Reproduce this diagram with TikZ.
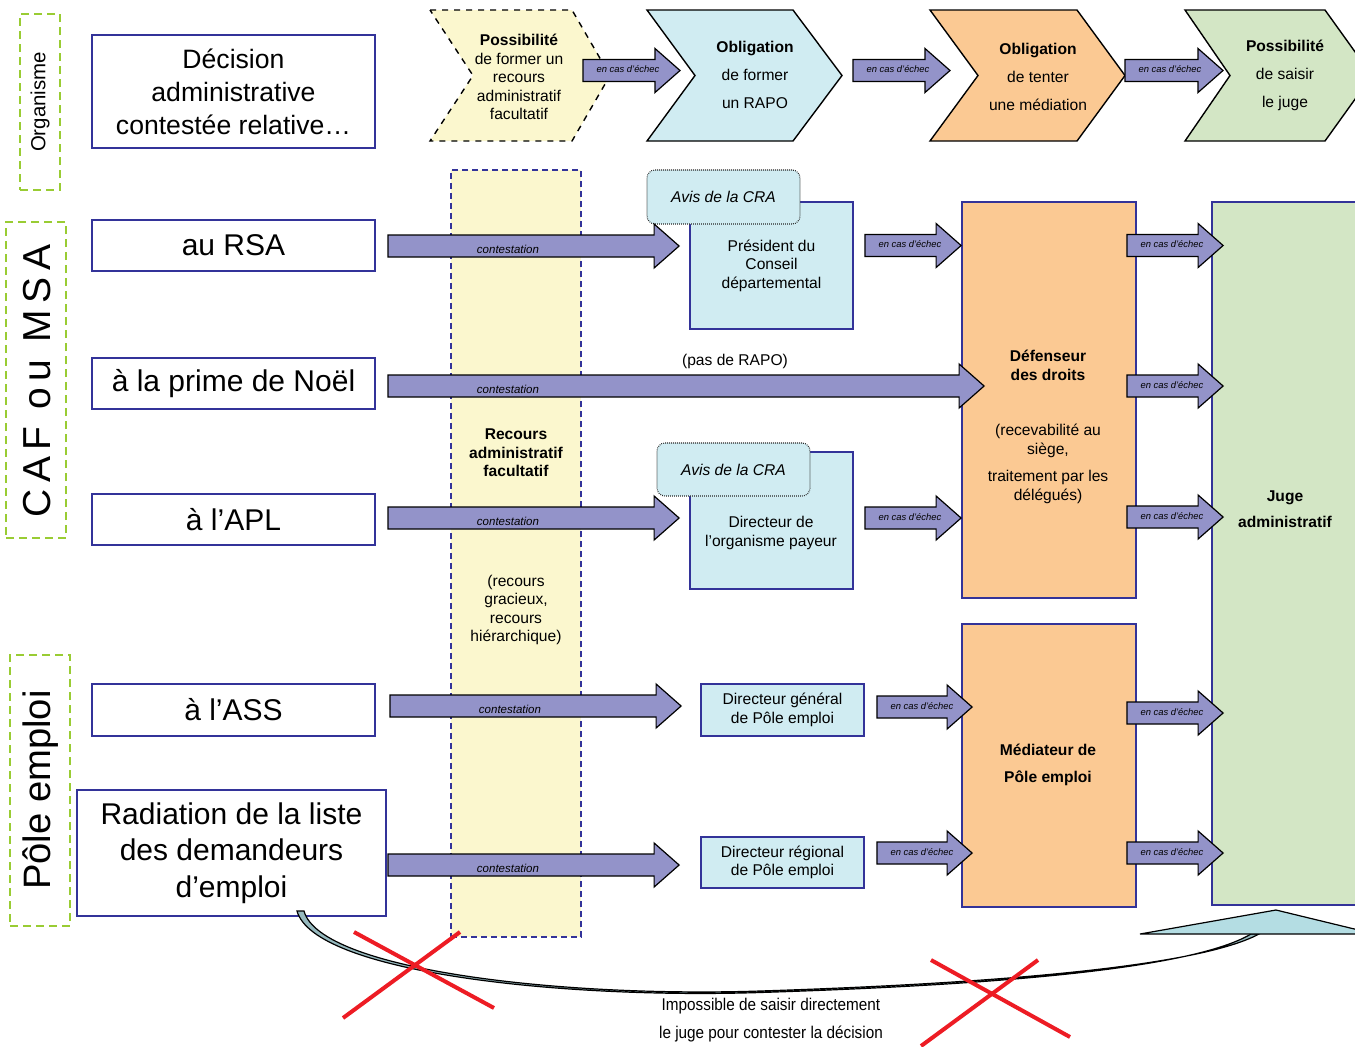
\documentclass[tikz,border=0pt]{standalone}
\usepackage{fontspec}
\setmainfont{Liberation Sans}
\newfontfamily\narrowfont[FakeStretch=0.9]{Liberation Sans}
\usetikzlibrary{calc}

\definecolor{boxline}{RGB}{51,51,153}
\definecolor{arrowfill}{RGB}{147,147,201}
\definecolor{paleblue}{RGB}{208,236,242}
\definecolor{paleyellow}{RGB}{251,247,206}
\definecolor{paleorange}{RGB}{251,201,147}
\definecolor{palegreen}{RGB}{211,230,197}
\definecolor{grpgreen}{RGB}{153,204,51}
\definecolor{crossred}{RGB}{237,28,36}
\definecolor{curvefill}{RGB}{150,185,190}
\definecolor{tipfill}{RGB}{180,221,227}

\tikzset{
  declbox/.style={draw=boxline, line width=1pt, fill=white, inner sep=0pt, align=center, font=\fontsize{15}{18.3}\selectfont},
  grpbox/.style={draw=grpgreen, line width=1pt, dash pattern=on 4pt off 2.5pt, inner sep=0pt},
  grplabel/.style={rotate=90, inner sep=0pt},
  instbox/.style={draw=boxline, line width=0.9pt, fill=paleblue, inner sep=0pt, align=center, font=\fontsize{7.8}{9.2}\selectfont},
  avisbox/.style={draw=black!85, line width=0.55pt, dash pattern=on 0.4pt off 0.6pt, rounded corners=4pt, fill=paleblue, inner sep=0pt, font=\fontsize{7.8}{9.2}\selectfont\itshape},
  bigbox/.style={draw=boxline, line width=0.9pt, inner sep=0pt},
  txt/.style={align=center, inner sep=0pt, font=\fontsize{7.8}{9.2}\selectfont},
  chevron/.style={draw=black, line width=0.7pt},
  fatarrow/.style={draw=black, line width=0.6pt, fill=arrowfill},
  contlabel/.style={inner sep=0pt, font=\fontsize{5.75}{6}\selectfont\itshape},
  echeclabel/.style={inner sep=0pt, font=\fontsize{4.7}{5}\selectfont\itshape},
  redcross/.style={draw=crossred, line width=2pt}
}

\newcommand{\fatarrow}[6]{%
  \coordinate (fs) at #3;
  \coordinate (fe) at #4;
  \coordinate (ft) at (fe |- fs);
  \filldraw[fatarrow] ($(fs)+(0,-11)$) -- ($(ft)+(-25,-11)$) -- ($(ft)+(-25,-22)$) -- (ft)
    -- ($(ft)+(-25,22)$) -- ($(ft)+(-25,11)$) -- ($(fs)+(0,11)$) -- cycle;
  \node[#1] (#2) at ($(fs)+#5$) {#6};
}
\newcommand{\contarrow}[3]{\fatarrow{contlabel}{#1}{#2}{#3}{(120,3)}{contestation}}
\newcommand{\echecarrow}[3]{\fatarrow{echeclabel}{#1}{#2}{#3}{(45,-1)}{en cas d’échec}}

\begin{document}
\begin{tikzpicture}[x=0.5pt,y=-0.5pt]
\useasboundingbox (0,0) rectangle (1355,1046);

\filldraw[chevron, fill=paleyellow, dashed] (430,10) -- (572,10) -- (610,75.5) -- (572,141) -- (430,141) -- (473,75.5) -- cycle;
\filldraw[chevron, fill=paleblue] (647,10) -- (793,10) -- (842,75.5) -- (793,141) -- (647,141) -- (695,75.5) -- cycle;
\filldraw[chevron, fill=paleorange] (930,10) -- (1077,10) -- (1125,75.5) -- (1077,141) -- (930,141) -- (978,75.5) -- cycle;
\filldraw[chevron, fill=palegreen] (1185,10) -- (1325,10) -- (1372,75.5) -- (1325,141) -- (1185,141) -- (1230,75.5) -- cycle;
\coordinate (posA-tip) at (610,75.5);
\coordinate (oblA-notch) at (695,75.5);
\coordinate (oblA-tip) at (842,75.5);
\coordinate (oblB-notch) at (978,75.5);
\coordinate (oblB-tip) at (1125,75.5);
\coordinate (posB-notch) at (1230,75.5);
\node[txt] (posA) at (519,77) {\textbf{Possibilité}\\de former un\\recours\\administratif\\facultatif};
\node[txt, font=\fontsize{7.8}{14}\selectfont] (oblA) at (755,75) {\textbf{Obligation}\\de former\\un RAPO};
\node[txt, font=\fontsize{7.8}{14}\selectfont] (oblB) at (1038,77) {\textbf{Obligation}\\de tenter\\une médiation};
\node[txt, font=\fontsize{7.8}{14}\selectfont] (posB) at (1285,75) {\textbf{Possibilité}\\de saisir\\le juge};

\node[grpbox, minimum width=20pt, minimum height=88pt] (orgbox) at (40,102) {};
\node[grplabel, font=\fontsize{10.2}{12}\selectfont] (orglbl) at (40,102) {Organisme};
\node[grpbox, minimum width=30pt, minimum height=158pt] (cafbox) at (36,380) {};
\node[grplabel, font=\fontsize{19.5}{22}\selectfont] (caflbl) at (37,381) {C\,A\,F\, o\,u\, M\,S\,A};
\node[grpbox, minimum width=30pt, minimum height=135.5pt] (polebox) at (40,790.5) {};
\node[grplabel, font=\fontsize{19.1}{22}\selectfont] (polelbl) at (41,790) {Pôle emploi};

\node[declbox, minimum width=141.5pt, minimum height=56.5pt, font=\fontsize{13.3}{16.5}\selectfont] (dec) at (233.5,91.5) {Décision\\administrative\\contestée relative…};
\node[declbox, minimum width=141.5pt, minimum height=25.5pt] (rsa) at (233.5,245.5) {au RSA};
\node[declbox, minimum width=141.5pt, minimum height=25.5pt] (noel) at (233.5,383.5) {à la prime de Noël};
\node[declbox, minimum width=141.5pt, minimum height=25.5pt] (apl) at (233.5,519.5) {à l’APL};
\node[declbox, minimum width=141.5pt, minimum height=26pt] (ass) at (233.5,710) {à l’ASS};
\node[declbox, minimum width=154.5pt, minimum height=63pt] (rad) at (231.5,853) {Radiation de la liste\\des demandeurs\\d’emploi};

\node[draw=boxline, line width=1pt, dash pattern=on 3pt off 2pt, fill=paleyellow, inner sep=0pt, minimum width=65pt, minimum height=383.5pt] (col) at (516,553.5) {};
\node[txt] (recours) at (516,453) {\textbf{Recours}\\\textbf{administratif}\\\textbf{facultatif}};
\node[txt] (gracieux) at (516,610) {(recours\\gracieux,\\recours\\hiérarchique)};

\node[instbox, minimum width=81.5pt, minimum height=63.5pt] (pres) at (771.5,265.5) {Président du\\Conseil\\départemental};
\node[avisbox, minimum width=76.5pt, minimum height=27pt] (avisA) at (723.5,197) {Avis de la CRA};
\node[instbox, minimum width=81.5pt, minimum height=68.5pt] (dirorg) at (771.5,520.5) {};
\node[txt] (dirorgtxt) at (771,533) {Directeur de\\l’organisme payeur};
\node[avisbox, minimum width=76.5pt, minimum height=26.5pt] (avisB) at (733.5,469.5) {Avis de la CRA};
\node[instbox, minimum width=81.5pt, minimum height=26pt] (dg) at (782.5,710) {Directeur général\\de Pôle emploi};
\node[instbox, minimum width=81.5pt, minimum height=25.5pt] (dr) at (782.5,862.5) {Directeur régional\\de Pôle emploi};
\node[txt] (rapo) at (735,361) {(pas de RAPO)};

\node[bigbox, fill=paleorange, minimum width=87pt, minimum height=198pt] (def) at (1049,400) {};
\node[txt, font=\fontsize{7.8}{9.5}\selectfont] (deftxt) at (1048,427) {\textbf{Défenseur}\\\textbf{des droits}\\[18pt](recevabilité au\\siège,\\[4pt]traitement par les\\délégués)};
\node[bigbox, fill=paleorange, minimum width=87pt, minimum height=141.5pt] (med) at (1049,765.5) {};
\node[txt] (medtxt) at (1048,765) {\textbf{Médiateur de}\\[4.5pt]\textbf{Pôle emploi}};
\node[bigbox, fill=palegreen, minimum width=79pt, minimum height=351.5pt] (juge) at (1291,553.5) {};
\node[txt] (jugetxt) at (1285,509) {\textbf{Juge}\\[4pt]\textbf{administratif}};

\echecarrow{ta1}{($(posA-tip)+(-27,-5)$)}{($(oblA-notch)+(-15,0)$)}
\echecarrow{ta2}{($(oblA-tip)+(11,-5)$)}{($(oblB-notch)+(-28,0)$)}
\echecarrow{ta3}{($(oblB-tip)+(0,-5)$)}{($(posB-notch)+(-7,0)$)}

\contarrow{ca1}{($(rsa.east)+(12,0.5)$)}{($(pres.west)+(-10,0)$)}
\contarrow{ca2}{($(noel.east)+(12,2.5)$)}{($(def.west)+(23,0)$)}
\contarrow{ca3}{($(apl.east)+(12,-1.5)$)}{($(dirorg.west)+(-10,0)$)}
\contarrow{ca4}{($(ass.east)+(14,-4)$)}{($(dg.west)+(-19,0)$)}
\contarrow{ca5}{($(rad.east)+(1,12)$)}{($(dr.west)+(-21,0)$)}

\echecarrow{ea1}{($(pres.east |- rsa.east)+(11,0)$)}{(def.west)}
\echecarrow{ea2}{($(dirorg.east |- apl.east)+(11,-1.5)$)}{(def.west)}
\echecarrow{ea3}{($(dg.east)+(12,-3)$)}{($(med.west)+(11,0)$)}
\echecarrow{ea4}{($(dr.east |- rad.east)+(12,0)$)}{($(med.west)+(11,0)$)}

\echecarrow{ja1}{($(def.east |- rsa.east)+(-10,0)$)}{($(juge.west)+(12,0)$)}
\echecarrow{ja2}{($(def.east |- noel.east)+(-10,2.5)$)}{($(juge.west)+(12,0)$)}
\echecarrow{ja3}{($(def.east |- apl.east)+(-10,-2.5)$)}{($(juge.west)+(12,0)$)}
\echecarrow{ja4}{($(med.east |- ass.east)+(-10,3)$)}{($(juge.west)+(12,0)$)}
\echecarrow{ja5}{($(med.east |- rad.east)+(-10,0)$)}{($(juge.west)+(12,0)$)}

\filldraw[fill=curvefill, draw=black, line width=0.6pt] (297,911) .. controls (314,972) and (558,999) .. (760,992.5) .. controls (962,986) and (1187,972) .. (1251,934) -- (1259,934) .. controls (1193,969.5) and (962,984.5) .. (760,991) .. controls (560,997.5) and (320,970) .. (304,911) -- cycle;
\filldraw[draw=black, line width=0.6pt, fill=tipfill] (1140,934) -- (1276,910) -- (1375,934) -- cycle;
\draw[redcross] (354,932) -- (494,1008);
\draw[redcross] (343,1018) -- (460,932);
\draw[redcross] (931,960) -- (1070,1037);
\draw[redcross] (921,1046) -- (1038,960);
\node[txt, font=\narrowfont\fontsize{8.5}{14}\selectfont] (nojudge) at (771,1020) {Impossible de saisir directement\\le juge pour contester la décision};
\end{tikzpicture}
\end{document}
